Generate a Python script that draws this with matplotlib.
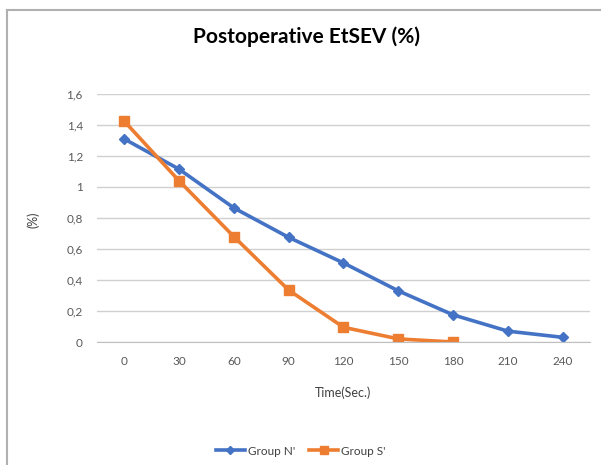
import matplotlib
matplotlib.use("Agg")
from matplotlib import pyplot as plt
from matplotlib.lines import Line2D

times = [0, 30, 60, 90, 120, 150, 180, 210, 240]
group_n = [1.31, 1.115, 0.865, 0.675, 0.51, 0.33, 0.175, 0.07, 0.03]
group_s = [1.425, 1.04, 0.68, 0.335, 0.095, 0.02, 0.0]
y_ticks = [0, 0.2, 0.4, 0.6, 0.8, 1.0, 1.2, 1.4, 1.6]
y_tick_labels = ['0', '0,2', '0,4', '0,6', '0,8', '1', '1,2', '1,4', '1,6']

plt.rcParams['font.family'] = ['Lato', 'DejaVu Sans']

fig = plt.figure(figsize=(6.01, 4.65), dpi=100)
ax = fig.add_axes([0.161, 0.2645, 0.821, 0.5335])

x_n = list(range(len(group_n)))
x_s = list(range(len(group_s)))
ax.plot(x_n, group_n, color='#4472C4', lw=2.6, marker='D', ms=5.5, label="Group N'")
ax.plot(x_s, group_s, color='#ED7D31', lw=2.6, marker='s', ms=7, label="Group S'")

ax.set_xlim(-0.5, len(times) - 0.5)
ax.set_ylim(0, 1.6)
ax.set_xticks(range(len(times)))
ax.set_xticklabels([str(t) for t in times])
ax.set_yticks(y_ticks)
ax.set_yticklabels(y_tick_labels)
ax.tick_params(length=0, labelsize=8.5, colors='#595959', pad=10)
ax.grid(axis='y', color='#D0D0D0', lw=1)
ax.set_axisbelow(True)
for s in ['top', 'right', 'left']:
    ax.spines[s].set_visible(False)
ax.spines['bottom'].set_color('#BFBFBF')

ax.set_xlabel('Time(Sec.)', fontsize=9, color='#404040', labelpad=14)
fig.text(0.055, 0.528, '(%)', rotation=90, ha='center', va='center', fontsize=9, color='#404040')
fig.text(0.51, 0.922, 'Postoperative EtSEV (%)', ha='center', va='center', fontsize=15, fontweight='bold')

fig.legend(loc='center', bbox_to_anchor=(0.5, 0.03), ncol=2, frameon=False,
           fontsize=8.5, handlelength=2.5, columnspacing=1.2, handletextpad=0.2,
           labelcolor='#404040', markerscale=0.75)

fig.add_artist(Line2D([0.011, 0.011], [0, 0.978], color='#B0B0B0', lw=1.5))
fig.add_artist(Line2D([0.011, 1.0], [0.978, 0.978], color='#B0B0B0', lw=1.5))

fig.savefig('out.png', dpi=100)
